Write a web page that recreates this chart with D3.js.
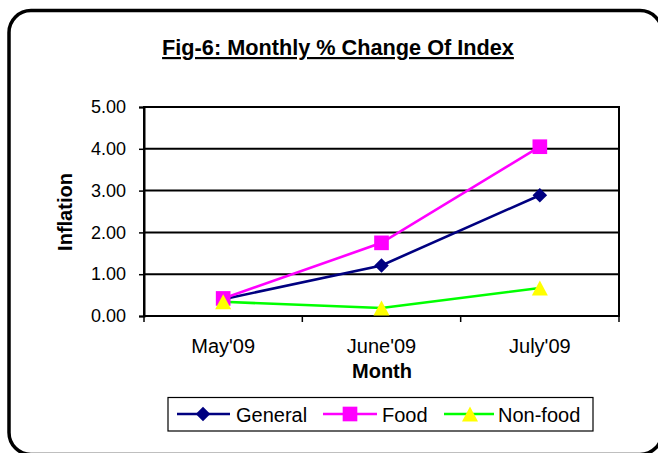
<!DOCTYPE html>
<html><head><meta charset="utf-8">
<script src="https://cdn.jsdelivr.net/npm/d3@7"></script>
<style>body{margin:0;background:#fff}svg{display:block;font-family:Arial,"Liberation Sans",sans-serif}</style>
</head><body><svg id="c" width="658" height="453"></svg>
<script>
const categories = ["May'09", "June'09", "July'09"];
const general = [0.40, 1.21, 2.89];
const food = [0.42, 1.75, 4.05];
const nonFood = [0.34, 0.19, 0.67];
const yTicks = [0, 1, 2, 3, 4, 5];
const seriesNames = ["General", "Food", "Non-food"];

const svg = d3.select("#c");
svg.append("rect").attr("x",9).attr("y",10.5).attr("width",653).attr("height",444)
  .attr("rx",22).attr("fill","#fff").attr("stroke","#000").attr("stroke-width",3.5);

const L=144, R=619, T=107, B=316;
const x = d3.scaleBand().domain(categories).range([L,R]);
const y = d3.scaleLinear().domain([0,5]).range([B,T]);

svg.append("text").attr("x",338).attr("y",55).attr("text-anchor","middle")
  .attr("font-size",21.7).attr("font-weight","bold").attr("text-decoration","underline")
  .text("Fig-6: Monthly % Change Of Index");

svg.append("g").selectAll("line").data(yTicks.filter(d=>d>0)).join("line")
  .attr("x1",L).attr("x2",R).attr("y1",d=>y(d)).attr("y2",d=>y(d))
  .attr("stroke","#000").attr("stroke-width",2);
svg.append("rect").attr("x",L).attr("y",T).attr("width",R-L).attr("height",B-T)
  .attr("fill","none").attr("stroke","#000").attr("stroke-width",2);

const ya = svg.append("g").attr("transform",`translate(${L},0)`)
  .call(d3.axisLeft(y).tickValues(yTicks).tickFormat(d3.format(".2f")).tickSize(5).tickPadding(13));
ya.select(".domain").attr("stroke-width",2);
ya.selectAll(".tick line").attr("stroke-width",1.5);
ya.selectAll("text").attr("font-size",18).attr("font-family","Arial, 'Liberation Sans', sans-serif").attr("fill","#000");

const xa = svg.append("g").attr("transform",`translate(0,${B})`)
  .call(d3.axisBottom(x).tickSize(0).tickPadding(23));
xa.select(".domain").remove();
xa.selectAll("text").attr("font-size",20).attr("font-family","Arial, 'Liberation Sans', sans-serif").attr("fill","#000");
const xt = [L, ...categories.map(c=>x(c)+x.bandwidth())];
svg.append("g").selectAll("line").data(xt).join("line")
  .attr("x1",d=>d).attr("x2",d=>d).attr("y1",B).attr("y2",B+6).attr("stroke","#000").attr("stroke-width",1.5);

svg.append("text").attr("x",382).attr("y",378).attr("text-anchor","middle")
  .attr("font-size",20).attr("font-weight","bold").text("Month");
svg.append("text").attr("transform","translate(72,212) rotate(-90)").attr("text-anchor","middle")
  .attr("font-size",20).attr("font-weight","bold").text("Inflation");

const cx = c => x(c)+x.bandwidth()/2;
const tri = { draw(ctx, size){ const w=8, h=7.5; ctx.moveTo(0,-h); ctx.lineTo(w,h); ctx.lineTo(-w,h); ctx.closePath(); } };
const sym = {
  diamond: d3.symbol().type(d3.symbolDiamond2).size(135),
  square: d3.symbol().type(d3.symbolSquare).size(215),
  triangle: d3.symbol().type(tri).size(100)
};
const series = [
  {name:seriesNames[0], values:general, line:"#000080", fill:"#000080", sym:"diamond"},
  {name:seriesNames[1], values:food, line:"#FF00FF", fill:"#FF00FF", sym:"square"},
  {name:seriesNames[2], values:nonFood, line:"#00FF00", fill:"#FFFF00", sym:"triangle"}
];
const line = d3.line().x((d,i)=>cx(categories[i])).y(d=>y(d));
series.forEach(s=>{
  svg.append("path").attr("d",line(s.values)).attr("fill","none").attr("stroke",s.line).attr("stroke-width",2.6);
});
series.forEach(s=>{
  svg.append("g").selectAll("path").data(s.values).join("path")
    .attr("transform",(d,i)=>`translate(${cx(categories[i])},${y(d)})`)
    .attr("d",sym[s.sym]()).attr("fill",s.fill);
});

svg.append("rect").attr("x",168).attr("y",397.5).attr("width",425).attr("height",33.5)
  .attr("fill","#fff").attr("stroke","#000").attr("stroke-width",1.2);
const lx = [[177,230,203,236],[323,377,350,382],[444,494,470,498]];
series.forEach((s,i)=>{
  const [a,b,m,t]=lx[i];
  svg.append("line").attr("x1",a).attr("x2",b).attr("y1",414).attr("y2",414).attr("stroke",s.line).attr("stroke-width",2.6);
  svg.append("path").attr("transform",`translate(${m},414)`).attr("d",sym[s.sym]()).attr("fill",s.fill);
  svg.append("text").attr("x",t).attr("y",421.5).attr("font-size",20).text(s.name);
});
</script></body></html>
